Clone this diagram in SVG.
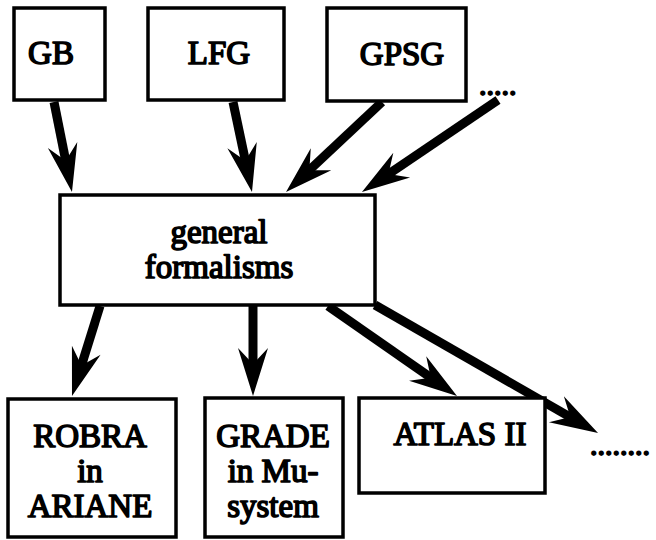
<svg xmlns="http://www.w3.org/2000/svg" width="656" height="540" viewBox="0 0 656 540">
<style>
.box{fill:#fff;stroke:#000;stroke-width:3.5}
.t{font-family:'Liberation Serif','Times New Roman',serif;font-weight:normal;font-size:33px;fill:#000;stroke:#000;stroke-width:1.6;stroke-linejoin:round;text-anchor:middle}
.d{font-family:'Liberation Serif','Times New Roman',serif;font-weight:normal;font-size:30px;fill:#000;stroke:#000;stroke-width:1.8}
.a{fill:none;stroke:#000;stroke-width:9;marker-end:url(#ah)}
</style>
<defs>
<marker id="ah" markerUnits="userSpaceOnUse" viewBox="-22 -17 56 34" markerWidth="56" markerHeight="34" refX="0" refY="0" orient="auto">
<path d="M30,0 L-18,-15 L-2,0 L-18,15 Z" fill="#000"/>
</marker>
</defs>
<rect width="656" height="540" fill="#fff"/>
<g id="connectors">
<path class="a" d="M54,102 L66.1,162.6"/>
<path class="a" d="M233,102 L245.8,162.7"/>
<path class="a" d="M382,102 L307.9,171.5"/>
<path class="a" d="M498,100 L386.8,175.2"/>
<path class="a" d="M100,306 L80.9,367.4"/>
<path class="a" d="M253,306 L253,366"/>
<path class="a" d="M328,306 L432.4,378.8"/>
<path class="a" d="M375,305 L572,418.1"/>
</g>
<g id="gb"><rect class="box" x="14" y="8" width="91" height="92"/><text class="t" x="51" y="64">GB</text></g>
<g id="lfg"><rect class="box" x="148" y="8" width="136" height="92"/><text class="t" x="219" y="64">LFG</text></g>
<g id="gpsg"><rect class="box" x="327" y="8" width="139" height="93"/><text class="t" x="402" y="65">GPSG</text></g>
<g id="more-in"><text class="d" x="479" y="95">.....</text></g>
<g id="general"><rect class="box" x="60" y="195" width="315" height="110"/><text class="t" x="219" y="243">general</text><text class="t" x="219" y="278">formalisms</text></g>
<g id="robra"><rect class="box" x="8" y="399" width="168" height="138"/><text class="t" x="90" y="447">ROBRA</text><text class="t" x="90" y="482">in</text><text class="t" x="90" y="517">ARIANE</text></g>
<g id="grade"><rect class="box" x="205" y="398" width="138" height="139"/><text class="t" x="273" y="447">GRADE</text><text class="t" x="273" y="482">in Mu-</text><text class="t" x="273" y="517">system</text></g>
<g id="atlas"><rect class="box" x="359" y="398" width="186" height="95"/><text class="t" x="460" y="445">ATLAS II</text></g>
<g id="more-out"><text class="d" x="590" y="455">........</text></g>
</svg>
